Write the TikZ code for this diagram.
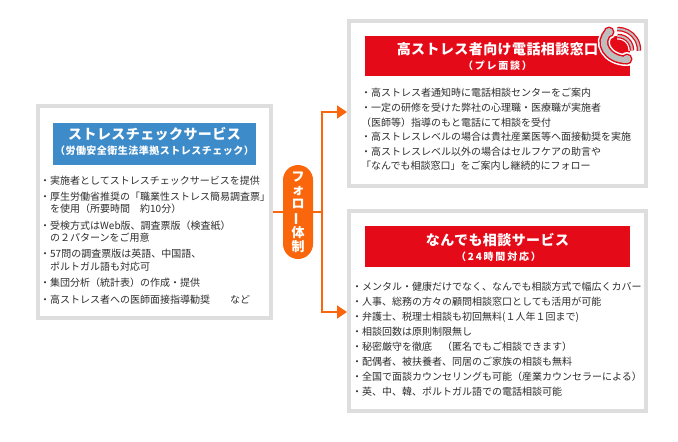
\documentclass[tikz,border=0pt]{standalone}
\usepackage{fontspec}
\usepackage{graphicx}
\setmainfont{Noto Sans CJK JP}
\usetikzlibrary{arrows.meta}

\definecolor{framegray}{RGB}{222,222,222}
\definecolor{headblue}{RGB}{62,139,201}
\definecolor{headred}{RGB}{228,10,24}
\definecolor{floworange}{RGB}{250,102,12}
\definecolor{textgray}{RGB}{45,45,45}
\definecolor{phonegray}{RGB}{190,190,190}

\tikzset{
  outerbox/.style={draw=framegray, line width=4pt, fill=white, inner sep=0pt},
  headbox/.style={inner sep=0pt, minimum height=41pt},
  titletext/.style={text=white, inner sep=0pt,
    font=\bfseries\fontsize{14}{16}\selectfont\addfontfeature{LetterSpace=3}},
  subtext/.style={text=white, inner sep=0pt,
    font=\bfseries\fontsize{10}{12}\selectfont\addfontfeature{LetterSpace=#1}},
  bodytext/.style={text=textgray, inner sep=0pt, align=left, anchor=base west,
    font=\fontsize{10}{#1}\selectfont},
  flow/.style={draw=floworange, line width=2pt},
  flowarrow/.style={flow, -{Triangle[length=10pt, width=13pt]}}
}

\begin{document}
\begin{tikzpicture}[x=1pt, y=-1pt]

\useasboundingbox (0,0) rectangle (678,442);

% Three framed boxes
\node[outerbox, minimum width=233pt, minimum height=212pt] (check) at (154.5,212) {};
\node[outerbox, minimum width=297pt, minimum height=165pt] (tell) at (497.5,103.5) {};
\node[outerbox, minimum width=297pt, minimum height=200pt] (any) at (497.5,311) {};

% Coloured headers
\node[headbox, fill=headblue, minimum width=203pt, minimum height=42pt] (checkhead) at (154.5,144) {};
\node[headbox, fill=headred, minimum width=265pt, minimum height=40pt] (tellhead) at (497.5,56) {};
\node[headbox, fill=headred, minimum width=265pt] (anyhead) at (497.5,246.5) {};

% Header texts
\node[titletext] (checktitle) at (154.5,134) {ストレスチェックサービス};
\node[subtext=5] (checksub) at (154.5,151) {（労働安全衛生法準拠ストレスチェック）};
\node[titletext] (telltitle) at (497.5,49) {高ストレス者向け電話相談窓口};
\node[subtext=18] (tellsub) at (497.5,66) {（プレ面談）};
\node[titletext] (anytitle) at (497.5,240) {なんでも相談サービス};
\node[subtext=18] (anysub) at (498.5,257) {（24時間対応）};

% Phone icon on the red header
\draw[white, line width=12pt, line cap=round] (609,32) .. controls (597,42) and (607,60) .. (627,60);
\fill[white] (609,32) circle (7pt) (627,59) circle (7pt);
\draw[headred, line width=9pt, line cap=round] (609,32) .. controls (597,42) and (607,60) .. (627,60);
\fill[headred] (609,32) circle (5.5pt) (627,59) circle (5.5pt);
\draw[phonegray, line width=6pt, line cap=round] (609,32) .. controls (597,42) and (607,60) .. (627,60);
\fill[phonegray] (609,32) circle (4pt) (627,59) circle (4pt);
\foreach \r in {14,21} {
  \draw[white, line width=7pt] (618,50) ++(-92:\r) arc (-92:2:\r);
  \draw[headred, line width=4.5pt] (618,50) ++(-92:\r) arc (-92:2:\r);
  \draw[phonegray, line width=2pt] (618,50) ++(-92:\r) arc (-92:2:\r);
}

% Body texts (placed by the baseline of their last line)
\node[bodytext=12.5] (checklist) at (40,303) {・実施者としてストレスチェックサービスを提供\\[3.8pt]
・厚生労働省推奨の「職業性ストレス簡易調査票」\\
　を使用（所要時間　約10分）\\[3.8pt]
・受検方式はWeb版、調査票版（検査紙）\\
　の２パターンをご用意\\[3.8pt]
・57問の調査票版は英語、中国語、\\
　ポルトガル語も対応可\\[3.8pt]
・集団分析（統計表）の作成・提供\\[3.8pt]
・高ストレス者への医師面接指導勧奨　　など};

\node[bodytext=14.4] (telllist) at (361,169.5) {・高ストレス者通知時に電話相談センターをご案内\\[1.5pt]
・一定の研修を受けた弊社の心理職・医療職が実施者\\
（医師等）指導のもと電話にて相談を受付\\
・高ストレスレベルの場合は貴社産業医等へ面接勧奨を実施\\
・高ストレスレベル以外の場合はセルフケアの助言や\\
「なんでも相談窓口」をご案内し継続的にフォロー};

\node[bodytext=15] (anylist) at (352,395.5) {・メンタル・健康だけでなく、なんでも相談方式で幅広くカバー\\
・人事、総務の方々の顧問相談窓口としても活用が可能\\
・弁護士、税理士相談も初回無料(１人年１回まで)\\
・相談回数は原則制限無し\\
・秘密厳守を徹底　（匿名でもご相談できます）\\
・配偶者、被扶養者、同居のご家族の相談も無料\\
・全国で面談カウンセリングも可能（産業カウンセラーによる）\\
・英、中、韓、ポルトガル語での電話相談可能};

% Follow-up pill
\node[fill=floworange, rounded corners=15pt, minimum width=30pt, minimum height=94pt,
  inner sep=0pt, text=white, align=center,
  font=\bfseries\fontsize{13}{13.6}\selectfont] (follow) at (298,212)
  {フ\\ォ\\ロ\\\rotatebox[origin=c]{90}{ー}\\体\\制};

% Connectors
\coordinate (split) at (322,212);
\coordinate (telltip) at (347,112);
\coordinate (anytip) at (347,312);
\draw[flow] (check.east) -- (follow.west);
\draw[flow] (follow.east) -- (split);
\draw[flowarrow] (split) |- (telltip);
\draw[flowarrow] (split) |- (anytip);

\end{tikzpicture}
\end{document}
